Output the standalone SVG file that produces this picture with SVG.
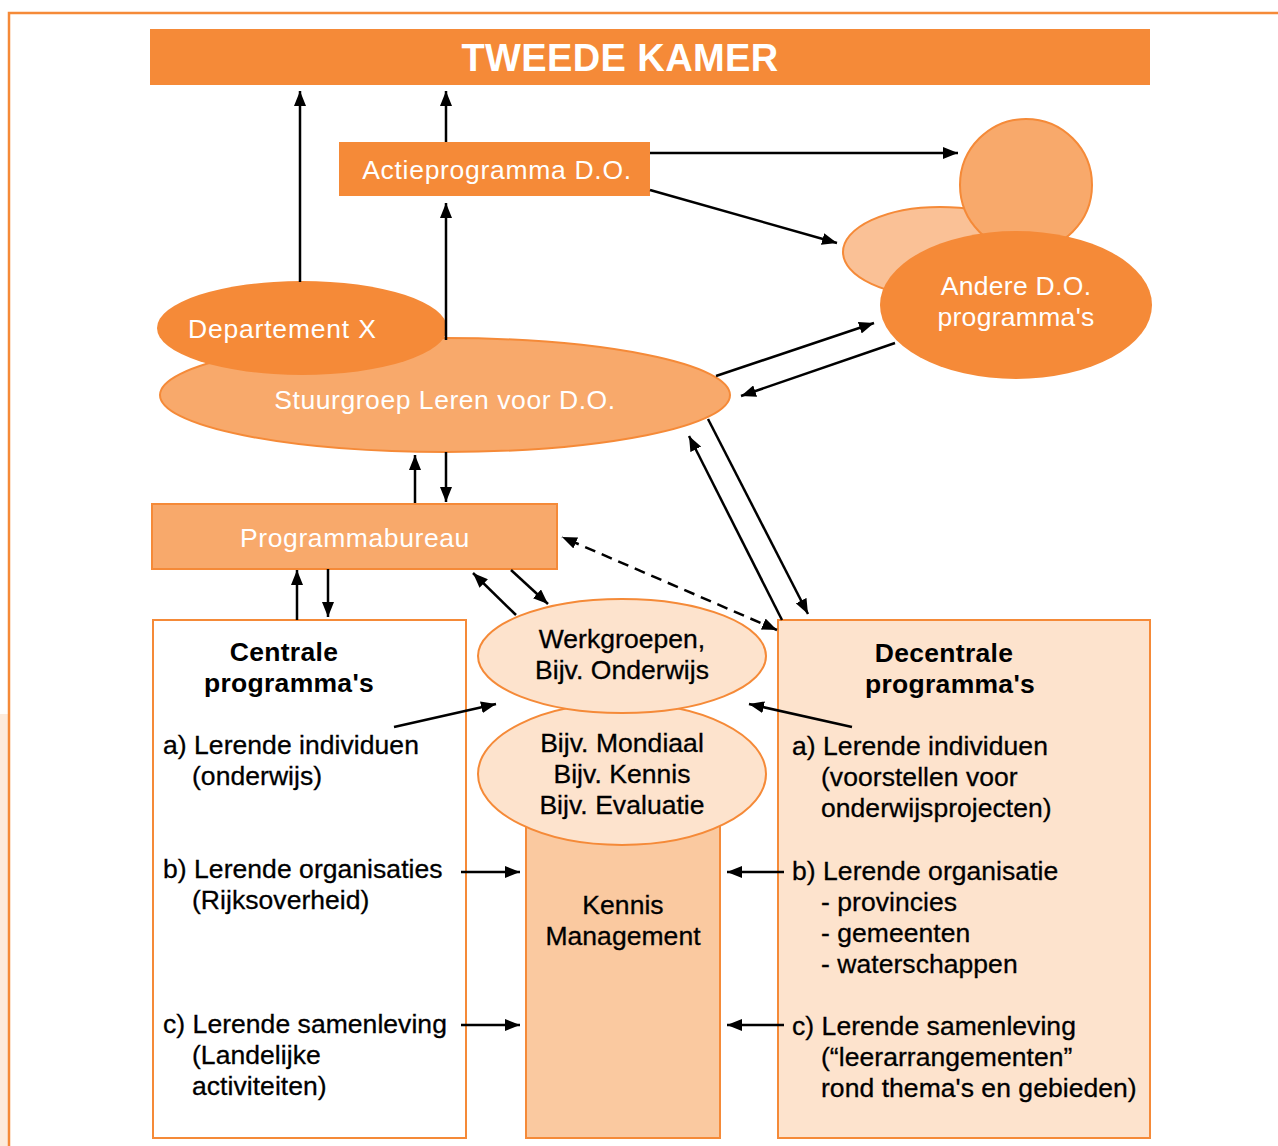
<svg xmlns="http://www.w3.org/2000/svg" width="1278" height="1146" viewBox="0 0 1278 1146">
<defs>
<marker id="ah" viewBox="0 0 15 12" refX="15" refY="6" markerWidth="15" markerHeight="12" markerUnits="userSpaceOnUse" orient="auto-start-reverse">
<path d="M0,0 L15,6 L0,12 z" fill="#000"/>
</marker>
<style>
.t{font-family:"Liberation Sans",Arial,sans-serif;font-size:26.5px;fill:#000;stroke:#000;stroke-width:0.3px;letter-spacing:0.05px}
.w{fill:#fff;stroke:none;letter-spacing:0.3px}
.b{font-weight:bold;stroke:none;letter-spacing:0.3px}
.c{text-anchor:middle}
.dark{fill:#F58A38}
.mid{fill:#F8A96B;stroke:#F58A38;stroke-width:2}
.lt{fill:#FAC196;stroke:#F58A38;stroke-width:2}
.pale{fill:#FDE3CD;stroke:#F58A38;stroke-width:2}
.km{fill:#FAC9A0;stroke:#F58A38;stroke-width:2}
.wb{fill:#fff;stroke:#F58A38;stroke-width:2}
.a{stroke:#000;stroke-width:2.5;fill:none;marker-end:url(#ah)}
.d{stroke:#000;stroke-width:2.5;fill:none;stroke-dasharray:11 7;marker-end:url(#ah);marker-start:url(#ah)}
</style>
</defs>
<rect x="0" y="0" width="1278" height="1146" fill="#fff"/>
<rect x="0" y="714" width="8" height="432" fill="#FDEBDC"/>
<path d="M9,1146 V13 H1278" fill="none" stroke="#F58A38" stroke-width="2.5"/>

<g id="tweede-kamer">
<rect class="dark" x="150" y="29" width="1000" height="56"/>
<text class="t w b c" x="620" y="71" style="font-size:38px;letter-spacing:0.4px">TWEEDE KAMER</text>
</g>

<g id="actieprogramma">
<rect class="dark" x="339" y="142" width="311" height="54"/>
<text class="t w c" x="497" y="179" style="letter-spacing:0.7px">Actieprogramma D.O.</text>
</g>

<g id="andere">
<ellipse class="lt" cx="940" cy="252" rx="97" ry="45"/>
<circle class="mid" cx="1026" cy="185" r="66"/>
<ellipse class="dark" cx="1016" cy="305" rx="136" ry="74"/>
<text class="t w c" x="1016" y="295">Andere D.O.</text>
<text class="t w c" x="1016" y="326">programma's</text>
</g>

<g id="stuurgroep">
<ellipse class="mid" cx="445" cy="395" rx="285" ry="57"/>
<text class="t w c" x="445" y="409" style="letter-spacing:0.55px">Stuurgroep Leren voor D.O.</text>
</g>

<g id="departement">
<ellipse class="dark" cx="302" cy="328" rx="145" ry="47"/>
<text class="t w" x="188" y="338" style="letter-spacing:0.8px">Departement X</text>
</g>

<g id="programmabureau">
<rect class="mid" x="152" y="504" width="405" height="65"/>
<text class="t w c" x="355" y="547" style="letter-spacing:0.6px">Programmabureau</text>
</g>

<g id="centrale">
<rect class="wb" x="153" y="620" width="313" height="518"/>
<text class="t b c" x="284" y="661">Centrale</text>
<text class="t b c" x="289" y="692">programma's</text>
<text class="t" x="163" y="754">a) Lerende individuen</text>
<text class="t" x="192" y="785">(onderwijs)</text>
<text class="t" x="163" y="878">b) Lerende organisaties</text>
<text class="t" x="192" y="909">(Rijksoverheid)</text>
<text class="t" x="163" y="1033">c) Lerende samenleving</text>
<text class="t" x="192" y="1064">(Landelijke</text>
<text class="t" x="192" y="1095">activiteiten)</text>
</g>

<g id="decentrale">
<rect class="pale" x="778" y="620" width="372" height="518"/>
<text class="t b c" x="944" y="662">Decentrale</text>
<text class="t b c" x="950" y="693">programma's</text>
<text class="t" x="792" y="755">a) Lerende individuen</text>
<text class="t" x="821" y="786">(voorstellen voor</text>
<text class="t" x="821" y="817">onderwijsprojecten)</text>
<text class="t" x="792" y="880">b) Lerende organisatie</text>
<text class="t" x="821" y="911">- provincies</text>
<text class="t" x="821" y="942">- gemeenten</text>
<text class="t" x="821" y="973">- waterschappen</text>
<text class="t" x="792" y="1035">c) Lerende samenleving</text>
<text class="t" x="821" y="1066">(“leerarrangementen”</text>
<text class="t" x="821" y="1097">rond thema's en gebieden)</text>
</g>

<g id="kennis-management">
<rect class="km" x="526" y="790" width="194" height="348"/>
<text class="t c" x="623" y="914">Kennis</text>
<text class="t c" x="623" y="945">Management</text>
</g>

<g id="thema-werkgroepen">
<ellipse class="pale" cx="622" cy="774" rx="144" ry="71"/>
<text class="t c" x="622" y="752">Bijv. Mondiaal</text>
<text class="t c" x="622" y="783">Bijv. Kennis</text>
<text class="t c" x="622" y="814">Bijv. Evaluatie</text>
</g>

<g id="werkgroepen">
<ellipse class="pale" cx="622" cy="656" rx="144" ry="57"/>
<text class="t c" x="622" y="648">Werkgroepen,</text>
<text class="t c" x="622" y="679">Bijv. Onderwijs</text>
</g>

<g id="connectors">
<path class="a" d="M300,282 V91"/>
<path class="a" d="M446,142 V91"/>
<path class="a" d="M446,340 V203"/>
<path class="a" d="M650,153 H958"/>
<path class="a" d="M650,190 L837,243"/>
<path class="a" d="M716,376 L874,323"/>
<path class="a" d="M895,343 L741,396"/>
<path class="a" d="M708,419 L808,614"/>
<path class="a" d="M782,620 L689,436"/>
<path class="a" d="M415,503 V455"/>
<path class="a" d="M446,452 V502"/>
<path class="a" d="M297,620 V570"/>
<path class="a" d="M328,569 V617"/>
<path class="a" d="M516,615 L473,573"/>
<path class="a" d="M511,570 L548,604"/>
<path class="d" d="M777,630 L562,537"/>
<path class="a" d="M394,727 L496,704"/>
<path class="a" d="M852,727 L749,704"/>
<path class="a" d="M461,872 H520"/>
<path class="a" d="M461,1025 H520"/>
<path class="a" d="M784,872 H727"/>
<path class="a" d="M784,1025 H727"/>
</g>
</svg>
